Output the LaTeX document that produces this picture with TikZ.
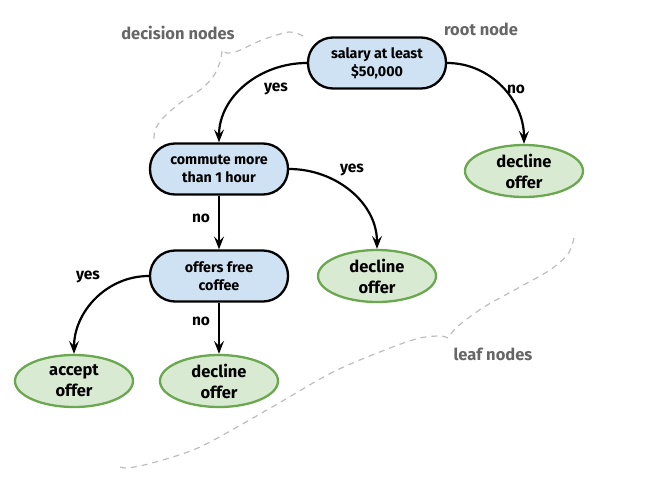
\documentclass[tikz,border=0pt]{standalone}
\usepackage{fontspec}
\setmainfont{Fira Sans}
\usetikzlibrary{arrows.meta,shapes.geometric}
\definecolor{decfill}{HTML}{CFE2F3}
\definecolor{leaffill}{HTML}{D9EAD3}
\definecolor{leafdraw}{HTML}{6AA84F}
\definecolor{labgray}{HTML}{666666}
\definecolor{dashgray}{HTML}{BDBDBD}
\begin{document}
\begin{tikzpicture}[x=1pt,y=-1pt,
  decision/.style={draw=black, line width=2.3pt, fill=decfill, rounded corners=25pt,
    minimum width=138pt, minimum height=51pt, align=center, inner sep=0pt,
    font=\fontsize{14.3}{18}\selectfont\bfseries},
  leaf/.style={ellipse, draw=leafdraw, line width=2.3pt, fill=leaffill,
    minimum width=118pt, minimum height=52pt, align=center, inner sep=0pt,
    font=\fontsize{16.5}{21}\selectfont\bfseries},
  edgeline/.style={-{Stealth[length=13pt,width=10pt,inset=5pt]}, line width=2.2pt},
  edgelab/.style={font=\fontsize{15.5}{17}\selectfont\bfseries},
  note/.style={text=labgray, font=\fontsize{16.5}{18}\selectfont\bfseries},
  bracel/.style={draw=dashgray, line width=1.2pt, dash pattern=on 6pt off 5pt}
]
\useasboundingbox (0,0) rectangle (652,482);

\node[decision] (root) at (377,63) {salary at least\\\$50,000};
\node[leaf] (d1) at (524,171) {decline\\offer};
\node[decision] (commute) at (219,169) {commute more\\than 1 hour};
\node[leaf] (d2) at (377,276) {decline\\offer};
\node[decision] (coffee) at (219,276) {offers free\\coffee};
\node[leaf] (accept) at (74,381) {accept\\offer};
\node[leaf] (d3) at (219,381) {decline\\offer};

\draw[edgeline] (root.west) to[out=180,in=90] (commute.north);
\draw[edgeline] (root.east) to[out=0,in=90] (d1.north);
\draw[edgeline] (commute.east) to[out=0,in=90] (d2.north);
\draw[edgeline] (commute.south) -- (coffee.north);
\draw[edgeline] (coffee.west) to[out=180,in=90] (accept.north);
\draw[edgeline] (coffee.south) -- (d3.north);

\node[edgelab] (l1) at (276,89) {yes};
\node[edgelab] (l2) at (516,89) {no};
\node[edgelab] (l3) at (352,170) {yes};
\node[edgelab] (l4) at (201,218) {no};
\node[edgelab] (l5) at (88,277) {yes};
\node[edgelab] (l6) at (201,321) {no};

\node[note] (decn) at (178,33) {decision nodes};
\node[note] (rootn) at (481,29) {root node};
\node[note] (leafn) at (493,354) {leaf nodes};

\draw[bracel] plot[smooth] coordinates {(303,36) (289,32) (262,40) (238,51) (227,53) (222,51)};
\draw[bracel] plot[smooth] coordinates {(222,51) (220,62) (213,77) (200,90) (180,103) (163,118) (155,130) (154,142)};
\draw[bracel] plot[smooth] coordinates {(574,238) (568,254) (550,270) (520,287) (484,307) (458,326) (448,338)};
\draw[bracel] plot[smooth] coordinates {(448,338) (440,336) (420,338) (390,348) (333,372) (267,410) (200,447) (152,463) (126,468) (116,465)};
\end{tikzpicture}
\end{document}
